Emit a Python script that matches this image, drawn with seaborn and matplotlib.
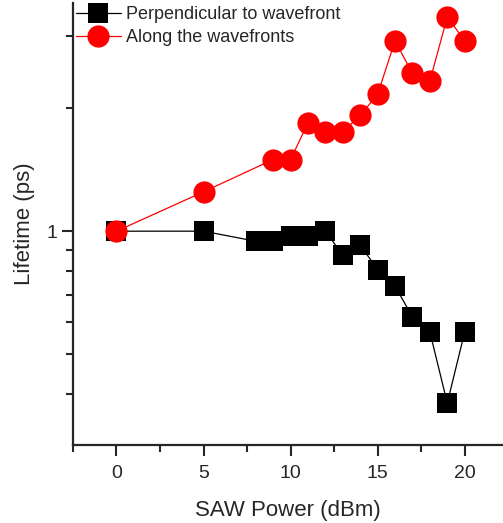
import numpy as np
import matplotlib
matplotlib.use("Agg")
import matplotlib.pyplot as plt
import matplotlib.ticker as mticker
import seaborn as sns

# SAW power (dBm) and lifetimes (ps)
perp_power = [0, 5, 8, 9, 10, 11, 12, 13, 14, 15, 16, 17, 18, 19, 20]
perp_life = [1.0, 1.0, 0.945, 0.945, 0.972, 0.972, 1.0, 0.874, 0.924, 0.806, 0.734, 0.617, 0.567, 0.380, 0.567]

along_power = [0, 5, 9, 10, 11, 12, 13, 14, 15, 16, 17, 18, 19, 20]
along_life = [1.0, 1.248, 1.497, 1.497, 1.84, 1.75, 1.75, 1.92, 2.16, 2.92, 2.43, 2.33, 3.34, 2.92]

sns.set_style("ticks")
plt.rcParams['font.family'] = ['Liberation Sans', 'DejaVu Sans']

fig = plt.figure(figsize=(5.03, 5.23), dpi=100)
ax = fig.add_axes([0.145, 0.149, 0.855, 0.845])

sns.lineplot(x=perp_power, y=perp_life, ax=ax, color='black', marker='s',
             markersize=14.5, markeredgewidth=0, linewidth=0.9,
             label='Perpendicular to wavefront')
sns.lineplot(x=along_power, y=along_life, ax=ax, color='red', marker='o',
             markersize=16, markeredgewidth=0, linewidth=0.9,
             label='Along the wavefronts')

ax.set_yscale('log')
ax.set_ylim(0.3, 3.61)
ax.set_xlim(-2.5, 22.2)

ax.yaxis.set_major_locator(mticker.FixedLocator([1]))
ax.yaxis.set_major_formatter(mticker.FixedFormatter(['1']))
ax.yaxis.set_minor_locator(mticker.FixedLocator([0.4, 0.5, 0.6, 0.7, 0.8, 0.9, 2, 3]))
ax.yaxis.set_minor_formatter(mticker.NullFormatter())

ax.xaxis.set_major_locator(mticker.MultipleLocator(5))
ax.xaxis.set_minor_locator(mticker.MultipleLocator(2.5))

ax.tick_params(axis='both', which='major', length=8, width=1.5, labelsize=14, direction='out')
ax.tick_params(axis='x', which='major', pad=6)
ax.tick_params(axis='both', which='minor', length=5, width=1.5, direction='out')

for side in ['left', 'bottom']:
    ax.spines[side].set_linewidth(1.6)
sns.despine(ax=ax)

ax.set_xlabel('SAW Power (dBm)', fontsize=16, labelpad=13)
ax.set_ylabel('Lifetime (ps)', fontsize=16, labelpad=8)

ax.legend(loc='upper left', frameon=False, fontsize=13, handlelength=2.5,
          handletextpad=0.3, borderaxespad=0.05, labelspacing=0.35,
          borderpad=0.1)

fig.savefig('out.png', dpi=100)
